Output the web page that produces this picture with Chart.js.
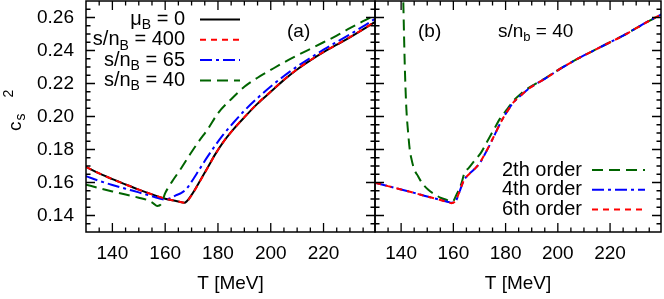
<!DOCTYPE html>
<html>
<head>
<meta charset="utf-8">
<script src="https://cdn.jsdelivr.net/npm/chart.js@4.4.1/dist/chart.umd.min.js"></script>
<style>
  body { margin: 0; background: #fff; }
  #lienzos { position: relative; width: 664px; height: 299px; }
  #graficaA { position: absolute; left: 0; top: 0; }
  #graficaB { position: absolute; left: 370px; top: 0; }
</style>
</head>
<body>
<div id="lienzos">
  <canvas id="graficaA" width="380" height="299"></canvas>
  <canvas id="graficaB" width="294" height="299"></canvas>
</div>
<script>
// --- Datos ---

// Panel (a): distintas s/nB
const tMuCero = [130, 135, 140, 145, 150, 155, 160, 165, 167.3, 170, 173, 176, 179, 182, 186, 190, 195, 200, 205, 210, 215, 220, 225, 230, 235, 240];
const csMuCero = [0.1695, 0.1655, 0.1620, 0.1588, 0.1557, 0.1528, 0.1502, 0.1485, 0.1478, 0.1525, 0.1605, 0.1688, 0.1772, 0.1845, 0.1925, 0.1995, 0.2078, 0.2150, 0.2222, 0.2285, 0.2340, 0.2390, 0.2435, 0.2480, 0.2528, 0.2578];

const tS400 = [130, 135, 140, 145, 150, 155, 160, 165, 167.5, 170, 173, 176, 179, 182, 186, 190, 195, 200, 205, 210, 215, 220, 225, 230, 235, 240];
const csS400 = [0.1695, 0.1655, 0.1620, 0.1588, 0.1557, 0.1528, 0.1502, 0.1485, 0.1477, 0.1522, 0.1603, 0.1686, 0.1771, 0.1845, 0.1925, 0.1996, 0.2079, 0.2151, 0.2223, 0.2286, 0.2341, 0.2391, 0.2436, 0.2481, 0.2529, 0.2579];

const tS65 = [130, 135, 140, 145, 150, 155, 160, 162, 164, 166, 168, 170, 173, 176, 179, 182, 186, 190, 195, 200, 205, 210, 215, 220, 225, 230, 235, 240];
const csS65 = [0.1638, 0.1610, 0.1585, 0.1562, 0.1540, 0.1517, 0.1497, 0.1505, 0.1522, 0.1535, 0.1560, 0.1605, 0.1680, 0.1755, 0.1825, 0.1890, 0.1965, 0.2035, 0.2112, 0.2182, 0.2245, 0.2303, 0.2355, 0.2405, 0.2452, 0.2498, 0.2546, 0.2597];

const tS40 = [130, 135, 140, 145, 150, 153, 155.5, 157, 158.5, 160, 161, 163, 166, 170, 173, 176, 180, 185, 190, 195, 200, 205, 210, 215, 220, 225, 230, 235, 240];
const csS40 = [0.1587, 0.1566, 0.1546, 0.1527, 0.1508, 0.1495, 0.1474, 0.1458, 0.1470, 0.1535, 0.1565, 0.1615, 0.1685, 0.1785, 0.1855, 0.1920, 0.2020, 0.2105, 0.2180, 0.2235, 0.2282, 0.2328, 0.2370, 0.2410, 0.2450, 0.2490, 0.2535, 0.2578, 0.2618];

// Panel (b): s/nb = 40, distintos órdenes
const tOrden2 = [140.4, 140.8, 141.4, 142.0, 142.7, 143.3, 144, 145, 146.5, 148, 150.3, 153, 155.3, 157.5, 159.8, 161, 163, 164.2, 166, 168, 170.6, 173, 175.6, 178, 180.7, 183, 186, 189, 195, 200, 205, 210, 215, 220, 225, 230, 235, 240];
const csOrden2 = [0.300, 0.272, 0.231, 0.205, 0.190, 0.180, 0.174, 0.168, 0.1638, 0.1597, 0.1557, 0.1527, 0.1506, 0.1494, 0.1485, 0.1520, 0.1590, 0.1655, 0.1690, 0.1730, 0.1781, 0.1850, 0.1924, 0.1990, 0.2046, 0.2095, 0.2140, 0.2175, 0.2230, 0.2281, 0.2327, 0.2370, 0.2410, 0.2450, 0.2490, 0.2535, 0.2580, 0.2622];

const tOrden4 = [130, 135, 140, 145, 150, 155, 158.5, 159.3, 161, 162.5, 164, 166, 168, 170, 172, 174, 176, 178, 180, 183, 186, 189, 195, 200, 205, 210, 215, 220, 225, 230, 235, 240];
const csOrden4 = [0.1598, 0.1578, 0.1558, 0.1537, 0.1515, 0.1495, 0.1480, 0.1478, 0.1490, 0.1550, 0.1612, 0.1650, 0.1680, 0.1715, 0.1770, 0.1830, 0.1895, 0.1960, 0.2015, 0.2085, 0.2130, 0.2170, 0.2228, 0.2280, 0.2327, 0.2370, 0.2410, 0.2450, 0.2490, 0.2535, 0.2580, 0.2622];

const tOrden6 = [130, 135, 140, 145, 150, 155, 158.5, 159.2, 161, 162.5, 164, 166, 168, 170, 172, 174, 176, 178, 180, 183, 186, 189, 195, 200, 205, 210, 215, 220, 225, 230, 235, 240];
const csOrden6 = [0.1598, 0.1578, 0.1558, 0.1537, 0.1515, 0.1494, 0.1478, 0.1475, 0.1492, 0.1552, 0.1612, 0.1650, 0.1680, 0.1716, 0.1771, 0.1831, 0.1895, 0.1960, 0.2015, 0.2085, 0.2130, 0.2170, 0.2228, 0.2280, 0.2327, 0.2370, 0.2410, 0.2450, 0.2490, 0.2535, 0.2580, 0.2622];

// Etiquetas de leyenda: [texto, subíndice, resto]
const etiquetasA = [['μ', 'B', ' = 0'], ['s/n', 'B', ' = 400'], ['s/n', 'B', ' = 65'], ['s/n', 'B', ' = 40']];
const etiquetasB = [['2th order', '', ''], ['4th order', '', ''], ['6th order', '', '']];

// Rango de los ejes y marcas
const rangoT = [130, 239.5];
const rangoCs = [0.13, 0.27];
const marcasT = [140, 160, 180, 200, 220];
const marcasCs = [0.14, 0.16, 0.18, 0.20, 0.22, 0.24, 0.26];

const FUENTE = '"Liberation Sans", Arial, Helvetica, sans-serif';
const VERDE = '#006400';

function puntos(ts, vs) {
    return ts.map((t, i) => ({ x: t, y: vs[i] }));
}

function serie(ts, vs, color, trazo, orden) {
    return {
        data: puntos(ts, vs),
        borderColor: color,
        borderDash: trazo,
        borderWidth: 2,
        pointRadius: 0,
        fill: false,
        cubicInterpolationMode: 'monotone',
        clip: 0,
        order: orden
    };
}

// Escribe texto con un subíndice opcional
function escribirPartes(ctx, partes, x, y, alinear, tam) {
    const f1 = tam + 'px ' + FUENTE;
    const f2 = Math.round(tam * 0.68) + 'px ' + FUENTE;
    ctx.font = f1;
    const w0 = ctx.measureText(partes[0]).width;
    const w2 = ctx.measureText(partes[2]).width;
    ctx.font = f2;
    const w1 = partes[1] ? ctx.measureText(partes[1]).width : 0;
    let x0 = alinear === 'right' ? x - (w0 + w1 + w2) : x;
    ctx.textAlign = 'left';
    ctx.textBaseline = 'middle';
    ctx.fillStyle = '#000';
    ctx.font = f1;
    ctx.fillText(partes[0], x0, y);
    if (partes[1]) {
        ctx.font = f2;
        ctx.fillText(partes[1], x0 + w0, y + tam * 0.3);
    }
    ctx.font = f1;
    ctx.fillText(partes[2], x0 + w0 + w1, y);
}

// Plugin: marco con marcas hacia dentro, números del eje y, leyenda y rótulos
const marcoGnuplot = {
    id: 'marco',
    afterDatasetsDraw(chart, args, opts) {
        const { ctx, chartArea: a, scales: { x, y } } = chart;
        ctx.save();
        ctx.strokeStyle = '#000';
        ctx.lineWidth = 1.3;
        ctx.beginPath();
        for (let t = 130; t <= 240; t += 5) {
            if (t <= x.min || t >= x.max) continue;
            const px = x.getPixelForValue(t);
            const largo = (t % 20 === 0) ? 9 : 4.5;
            ctx.moveTo(px, a.bottom); ctx.lineTo(px, a.bottom - largo);
            ctx.moveTo(px, a.top); ctx.lineTo(px, a.top + largo);
        }
        for (let k = 27; k < 54; k++) {
            const py = y.getPixelForValue(k * 0.005);
            const largo = (k % 4 === 0) ? 9 : 4.5;
            ctx.moveTo(a.left, py); ctx.lineTo(a.left + largo, py);
            ctx.moveTo(a.right, py); ctx.lineTo(a.right - largo, py);
        }
        ctx.stroke();
        ctx.lineWidth = 1.5;
        ctx.strokeRect(a.left, a.top, a.right - a.left, a.bottom - a.top);

        // números del eje y (solo en el panel izquierdo)
        if (opts.numerosY) {
            ctx.fillStyle = '#000';
            ctx.font = '19px ' + FUENTE;
            ctx.textAlign = 'right';
            ctx.textBaseline = 'middle';
            marcasCs.forEach(v => {
                ctx.fillText(v.toFixed(2), a.left - 12, y.getPixelForValue(v));
            });
        }

        // leyenda
        const ley = opts.leyenda;
        const conjuntos = chart.data.datasets;
        ley.etiquetas.forEach((et, i) => {
            const yy = ley.y0 + i * ley.paso;
            escribirPartes(ctx, et, ley.xTexto, yy, 'right', ley.tam);
            const ds = conjuntos[ley.indices[i]];
            ctx.beginPath();
            ctx.strokeStyle = ds.borderColor;
            ctx.lineWidth = 2;
            ctx.setLineDash(ds.borderDash || []);
            ctx.moveTo(ley.xLinea[0], yy);
            ctx.lineTo(ley.xLinea[1], yy);
            ctx.stroke();
            ctx.setLineDash([]);
        });

        // rótulos sueltos
        (opts.rotulos || []).forEach(r => {
            escribirPartes(ctx, r.partes, r.x, r.y, 'left', r.tam);
        });

        // título del eje y: c_s^2
        if (opts.numerosY) {
            ctx.translate(21, 131);
            ctx.rotate(-Math.PI / 2);
            ctx.textAlign = 'left';
            ctx.textBaseline = 'alphabetic';
            ctx.fillStyle = '#000';
            ctx.font = '19px ' + FUENTE;
            ctx.fillText('c', 0, 0);
            const wc = ctx.measureText('c').width;
            ctx.font = '14px ' + FUENTE;
            ctx.fillText('s', wc + 1, 4);
            ctx.fillText('2', wc + 24, -8);
        }
        ctx.restore();
    }
};

// Solo dejamos las marcas que llevan número
function soloMarcas(lista) {
    return escala => {
        escala.ticks = escala.ticks.filter(t => lista.some(m => Math.abs(m - t.value) < 1e-6));
    };
}

function ejes(anchoY) {
    return {
        x: {
            type: 'linear',
            min: rangoT[0],
            max: rangoT[1],
            grid: { display: false, drawTicks: false },
            border: { display: false },
            afterBuildTicks: soloMarcas(marcasT),
            ticks: {
                stepSize: 5,
                maxTicksLimit: 100,
                autoSkip: false,
                maxRotation: 0,
                padding: 10,
                color: '#000',
                font: { family: FUENTE, size: 19 },
                callback: v => String(v)
            },
            title: {
                display: true,
                text: 'T [MeV]',
                color: '#000',
                font: { family: FUENTE, size: 19 },
                padding: { top: 0, bottom: 4 }
            },
            afterFit: escala => { escala.height = 67; }
        },
        y: {
            type: 'linear',
            min: rangoCs[0],
            max: rangoCs[1],
            grid: { display: false, drawTicks: false },
            border: { display: false },
            ticks: { display: false, stepSize: 0.01, maxTicksLimit: 100 },
            afterFit: escala => { escala.width = anchoY; }
        }
    };
}

// Panel (a)
new Chart(document.getElementById('graficaA'), {
    type: 'line',
    data: {
        datasets: [
            serie(tMuCero, csMuCero, '#000000', [], 3),
            serie(tS400, csS400, '#ff0000', [6, 5], 0),
            serie(tS65, csS65, '#0000ff', [12, 4, 3, 4], 1),
            serie(tS40, csS40, VERDE, [11, 6], 2)
        ]
    },
    options: {
        responsive: false,
        animation: false,
        layout: { padding: { left: 0, right: 5, top: 1, bottom: 0 } },
        plugins: {
            legend: { display: false },
            tooltip: { enabled: false },
            marco: {
                leyenda: { etiquetas: etiquetasA, indices: [0, 1, 2, 3], xTexto: 185, xLinea: [200, 240], y0: 19.5, paso: 20.3, tam: 20 },
                rotulos: [{ partes: ['(a)', '', ''], x: 287, y: 32, tam: 19 }],
                numerosY: true
            }
        },
        scales: ejes(86)
    },
    plugins: [marcoGnuplot]
});

// Panel (b)
new Chart(document.getElementById('graficaB'), {
    type: 'line',
    data: {
        datasets: [
            serie(tOrden2, csOrden2, VERDE, [11, 6], 2),
            serie(tOrden4, csOrden4, '#0000ff', [12, 4, 3, 4], 1),
            serie(tOrden6, csOrden6, '#ff0000', [6, 5], 0)
        ]
    },
    options: {
        responsive: false,
        animation: false,
        layout: { padding: { left: 5, right: 3, top: 1, bottom: 0 } },
        plugins: {
            legend: { display: false },
            tooltip: { enabled: false },
            marco: {
                leyenda: { etiquetas: etiquetasB, indices: [0, 1, 2], xTexto: 212, xLinea: [222, 275], y0: 170, paso: 19.8, tam: 20 },
                rotulos: [
                    { partes: ['(b)', '', ''], x: 48, y: 32, tam: 19 },
                    { partes: ['s/n', 'b', ' = 40'], x: 128, y: 32, tam: 19 }
                ],
                numerosY: false
            }
        },
        scales: ejes(0)
    },
    plugins: [marcoGnuplot]
});
</script>
</body>
</html>
